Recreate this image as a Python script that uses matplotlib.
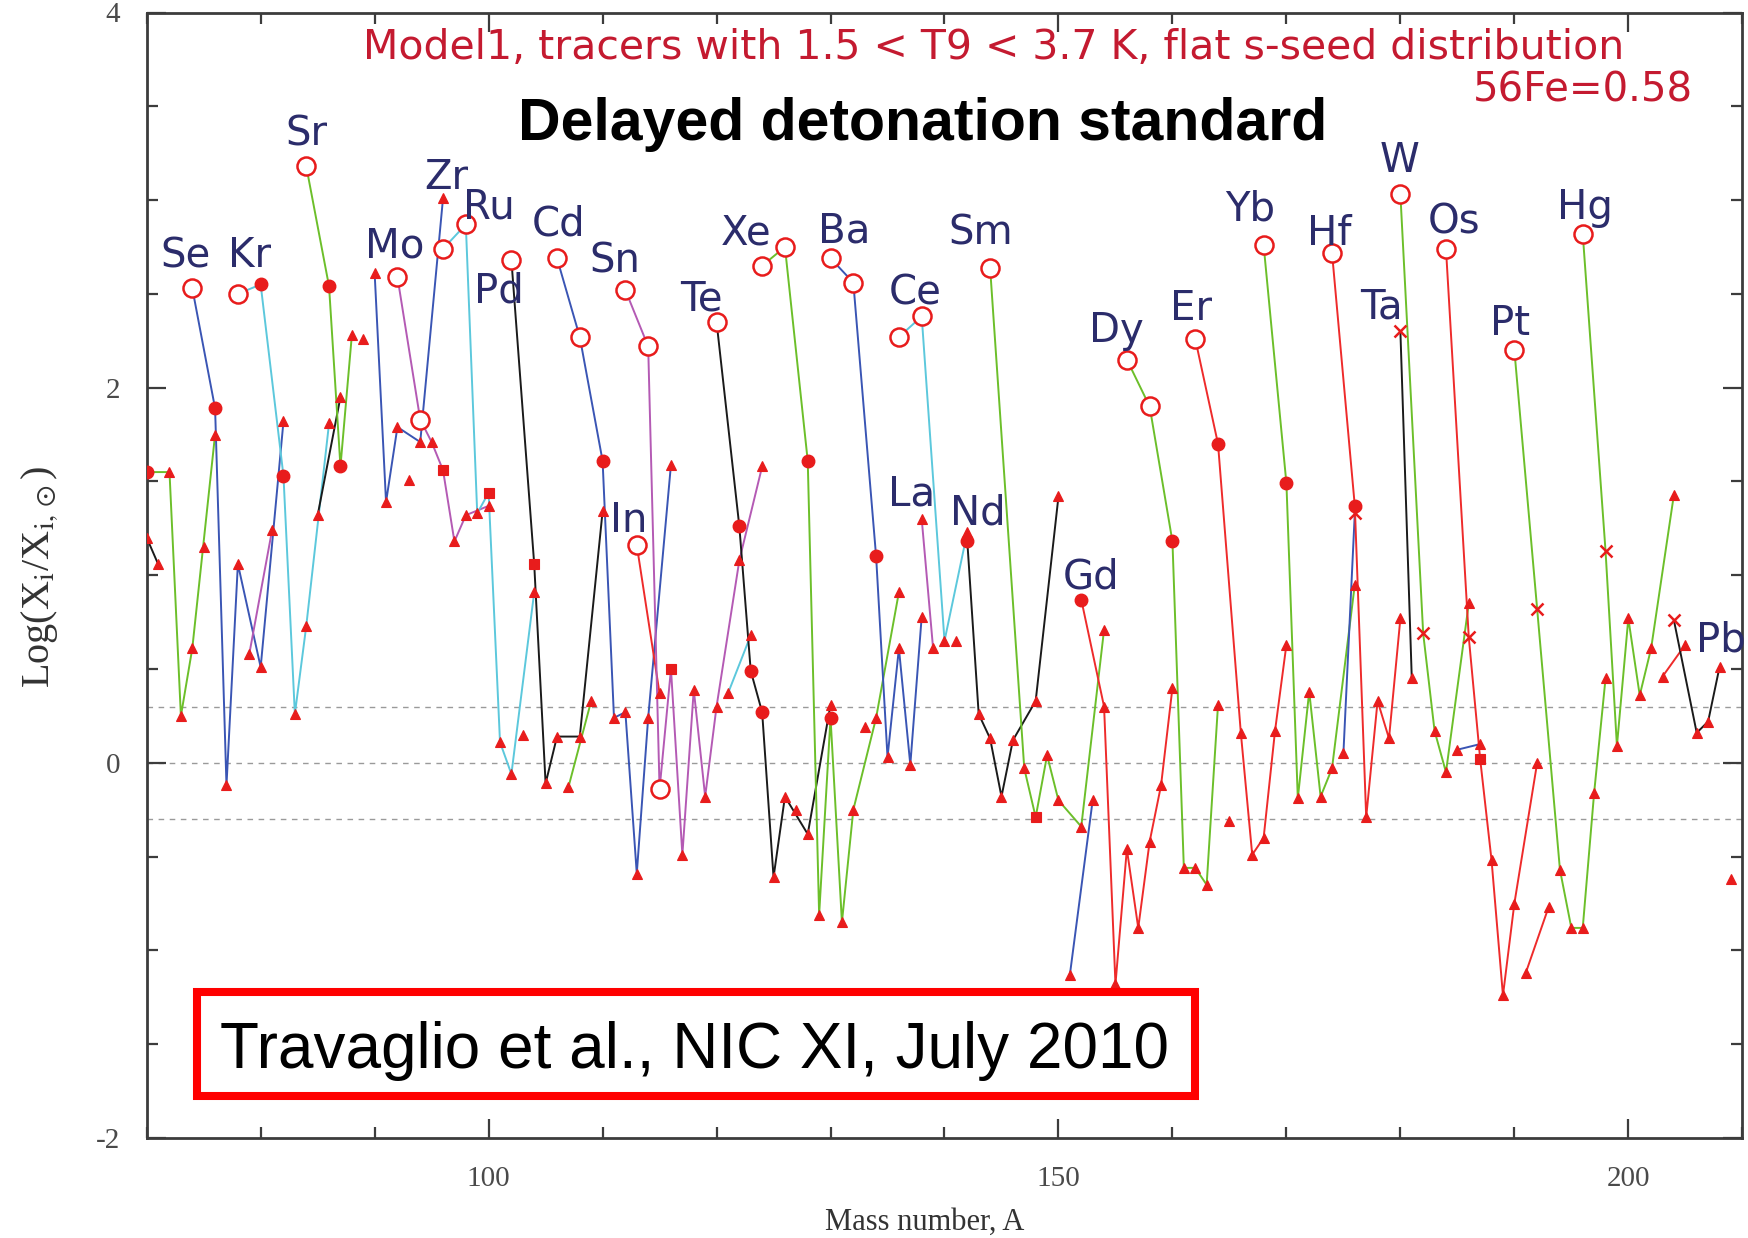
import matplotlib.pyplot as plt
from matplotlib.patches import Rectangle
from matplotlib.ticker import FixedLocator, MultipleLocator

# Each chain: (mass numbers, log(X/X_sun), isotope kind)
# kind: p = p-only, s = s-only, r = other, q = square-flagged, x = cross-flagged
ga = ([70, 71], [1.20, 1.06], "rr")
ge = ([70, 72, 73, 74, 76], [1.55, 1.55, 0.25, 0.61, 1.75], "srrrr")
as_ = ([75], [1.15], "r")
se = ([74, 76, 77, 78, 80, 82], [2.53, 1.89, -0.12, 1.06, 0.51, 1.82], "psrrrr")
br = ([79, 81], [0.58, 1.24], "rr")
kr = ([78, 80, 82, 83, 84, 86], [2.50, 2.55, 1.53, 0.26, 0.73, 1.81], "pssrrr")
rb = ([85, 87], [1.32, 1.95], "rr")
sr = ([84, 86, 87, 88], [3.18, 2.54, 1.58, 2.28], "pssr")
y_ = ([89], [2.26], "r")
zr = ([90, 91, 92, 94, 96], [2.61, 1.39, 1.79, 1.71, 3.01], "rrrrr")
nb = ([93], [1.51], "r")
mo = ([92, 94, 95, 96, 97, 98, 100], [2.59, 1.83, 1.71, 1.56, 1.18, 1.32, 1.37], "pprqrrr")
ru = ([96, 98, 99, 100, 101, 102, 104], [2.74, 2.87, 1.33, 1.44, 0.11, -0.06, 0.91], "pprqrrr")
rh = ([103], [0.15], "r")
pd = ([102, 104, 105, 106, 108, 110], [2.68, 1.06, -0.11, 0.14, 0.14, 1.34], "pqrrrr")
ag = ([107, 109], [-0.13, 0.33], "rr")
cd = ([106, 108, 110, 111, 112, 113, 114, 116],
      [2.69, 2.27, 1.61, 0.24, 0.27, -0.59, 0.24, 1.59], "ppsrrrrr")
in_ = ([113, 115], [1.16, 0.37], "pr")
sn = ([112, 114, 115, 116, 117, 118, 119, 120, 122, 124],
      [2.52, 2.22, -0.14, 0.50, -0.49, 0.39, -0.18, 0.30, 1.08, 1.58], "pppqrrrrrr")
sb = ([121, 123], [0.37, 0.68], "rr")
te = ([120, 122, 123, 124, 125, 126, 128, 130],
      [2.35, 1.26, 0.49, 0.27, -0.61, -0.18, -0.38, 0.31], "psssrrrr")
i_ = ([127], [-0.25], "r")
xe = ([124, 126, 128, 129, 130, 131, 132, 134, 136],
      [2.65, 2.75, 1.61, -0.81, 0.24, -0.85, -0.25, 0.24, 0.91], "ppsrsrrrr")
cs = ([133], [0.19], "r")
ba = ([130, 132, 134, 135, 136, 137, 138], [2.69, 2.56, 1.10, 0.03, 0.61, -0.01, 0.78], "ppsrrrr")
la = ([138, 139], [1.30, 0.61], "rr")
ce = ([136, 138, 140, 142], [2.27, 2.38, 0.65, 1.23], "pprr")
pr = ([141], [0.65], "r")
nd = ([142, 143, 144, 145, 146, 148, 150], [1.18, 0.26, 0.13, -0.18, 0.12, 0.33, 1.42], "srrrrrr")
sm = ([144, 147, 148, 149, 150, 152, 154], [2.64, -0.03, -0.29, 0.04, -0.20, -0.34, 0.71], "prqrrrr")
eu = ([151, 153], [-1.13, -0.20], "rr")
gd = ([152, 154, 155, 156, 157, 158, 159, 160],
      [0.87, 0.30, -1.18, -0.46, -0.88, -0.42, -0.12, 0.40], "srrrrrrr")
dy = ([156, 158, 160, 161, 162, 163, 164], [2.15, 1.90, 1.18, -0.56, -0.56, -0.65, 0.31], "ppsrrrr")
ho = ([165], [-0.31], "r")
er = ([162, 164, 166, 167, 168, 169, 170], [2.26, 1.70, 0.16, -0.49, -0.40, 0.17, 0.63], "psrrrrr")
yb = ([168, 170, 171, 172, 173, 174, 176], [2.76, 1.49, -0.19, 0.38, -0.18, -0.03, 0.95], "psrrrrr")
lu = ([175, 176], [0.05, 1.33], "rx")
hf = ([174, 176, 177, 178, 179, 180], [2.72, 1.37, -0.29, 0.33, 0.13, 0.77], "psrrrr")
ta = ([180, 181], [2.30, 0.45], "xr")
w_ = ([180, 182, 183, 184, 186], [3.03, 0.69, 0.17, -0.05, 0.85], "pxrrr")
re = ([185, 187], [0.07, 0.10], "rr")
os_ = ([184, 186, 187, 188, 189, 190, 192], [2.74, 0.67, 0.02, -0.52, -1.24, -0.75, 0.00], "pxqrrrr")
ir = ([191, 193], [-1.12, -0.77], "rr")
pt = ([190, 192, 194, 195, 196, 197, 198], [2.20, 0.82, -0.57, -0.88, -0.88, -0.16, 0.45], "pxrrrrr")
hg = ([196, 198, 199, 200, 201, 202, 204], [2.82, 1.13, 0.09, 0.77, 0.36, 0.61, 1.43], "pxrrrrr")
tl = ([203, 205], [0.46, 0.63], "rr")
pb = ([204, 206, 207, 208], [0.76, 0.16, 0.22, 0.51], "xrrr")
bi = ([209], [-0.62], "r")

# element names written on the plot and where they sit (A, log ratio)
label_names = ["Se", "Kr", "Sr", "Mo", "Zr", "Ru", "Pd", "Cd", "Sn", "In", "Te", "Xe", "Ba",
               "Ce", "La", "Nd", "Sm", "Gd", "Dy", "Er", "Yb", "Hf", "Ta", "W", "Os", "Pt",
               "Hg", "Pb"]
label_x = [73.4, 79.0, 84.0, 91.8, 96.3, 100.0, 100.9, 106.1, 111.1, 112.3, 118.7, 122.6, 131.2,
           137.4, 137.1, 142.9, 143.2, 152.9, 155.1, 161.6, 166.8, 173.8, 178.3, 179.9, 184.7,
           189.6, 196.2, 208.1]
label_y = [2.70, 2.70, 3.35, 2.75, 3.12, 2.96, 2.51, 2.87, 2.67, 1.29, 2.47, 2.82, 2.83,
           2.50, 1.43, 1.33, 2.82, 0.99, 2.30, 2.42, 2.95, 2.82, 2.43, 3.21, 2.88,
           2.34, 2.96, 0.65]

BLUE = "#3a55b4"
CYAN = "#5cc8dc"
GREEN = "#6cbf2a"
BLACK = "#1a1a1a"
MAGENTA = "#b45ab4"
LRED = "#ee2b2b"
RED = "#e81c1c"
NAVY = "#2b2c6b"

chains = [
    (ga, BLACK), (ge, GREEN), (as_, GREEN), (se, BLUE), (br, MAGENTA), (kr, CYAN),
    (rb, BLACK), (sr, GREEN), (y_, GREEN), (zr, BLUE), (nb, BLUE), (mo, MAGENTA),
    (ru, CYAN), (rh, CYAN), (pd, BLACK), (ag, GREEN), (cd, BLUE), (in_, LRED),
    (sn, MAGENTA), (sb, CYAN), (te, BLACK), (i_, BLACK), (xe, GREEN), (cs, GREEN),
    (ba, BLUE), (la, MAGENTA), (ce, CYAN), (pr, CYAN), (nd, BLACK), (sm, GREEN),
    (eu, BLUE), (gd, LRED), (dy, GREEN), (ho, GREEN), (er, LRED), (yb, GREEN),
    (lu, BLUE), (hf, LRED), (ta, BLACK), (w_, GREEN), (re, BLUE), (os_, LRED),
    (ir, LRED), (pt, GREEN), (hg, GREEN), (tl, LRED), (pb, BLACK), (bi, BLACK),
]

kind_style = {
    "p": dict(marker="o", ms=13, mfc="white", mec=RED, mew=1.8),
    "s": dict(marker="o", ms=9, mfc=RED, mec=RED, mew=1),
    "r": dict(marker="^", ms=7.5, mfc=RED, mec=RED, mew=0.8),
    "q": dict(marker="s", ms=6.5, mfc=RED, mec=RED, mew=0.8),
    "x": dict(marker="x", ms=9, mec=RED, mew=1.8),
}

plt.rcParams["axes.unicode_minus"] = False
plt.rcParams["mathtext.fontset"] = "stix"

W, H = 1749, 1238
fig = plt.figure(figsize=(W / 100, H / 100), dpi=100)
ax = fig.add_axes([146.7 / W, 1 - 1138 / H, (1742.3 - 146.7) / W, (1138 - 12.5) / H])
ax.set_xlim(70, 210)
ax.set_ylim(-2, 4)

for yl in (-0.3, 0.0, 0.3):
    ax.axhline(yl, color="#9a9a9a", lw=1, ls=(0, (4, 4)), zorder=1)

for (a, y, k), col in chains:
    ax.plot(a, y, color=col, lw=1.4, zorder=2)
    for kind in sorted(set(k)):
        xs = [ai for ai, ki in zip(a, k) if ki == kind]
        ys = [yi for yi, ki in zip(y, k) if ki == kind]
        ax.plot(xs, ys, ls="none", zorder=3, **kind_style[kind])

for name, lx, ly in zip(label_names, label_x, label_y):
    ax.text(lx, ly, name, ha="center", va="center", fontsize=29, color=NAVY,
            family="DejaVu Sans", zorder=4)

# axes frame and ticks
for sp in ax.spines.values():
    sp.set_color("#3c3c3c")
    sp.set_linewidth(2)
ax.yaxis.set_major_locator(FixedLocator([-2, 0, 2, 4]))
ax.yaxis.set_minor_locator(MultipleLocator(0.5))
ax.xaxis.set_major_locator(FixedLocator([100, 150, 200]))
ax.xaxis.set_minor_locator(MultipleLocator(10))
ax.tick_params(which="both", direction="in", top=True, right=True, color="#3c3c3c", width=1.6)
ax.tick_params(which="major", length=14)
ax.tick_params(which="minor", length=8)
ax.tick_params(axis="y", which="major", pad=19, labelsize=21, labelcolor="#4a4a4a")
ax.tick_params(axis="x", which="major", pad=20, labelsize=21, labelcolor="#4a4a4a")
for lab in ax.get_xticklabels() + ax.get_yticklabels():
    lab.set_family("Liberation Serif")


def px(x, y):
    return x / W, 1 - y / H


fig.text(*px(925, 1222), "Mass number, A", ha="center", va="center", fontsize=22,
         family="Liberation Serif", color="#333333")
fig.text(*px(40, 577), r"Log(X$_\mathrm{i}$/X$_{\mathrm{i},\odot}$)", ha="center", va="center",
         rotation=90, fontsize=29, family="Liberation Serif", color="#333333")

fig.text(*px(994, 59), "Model1, tracers with 1.5 < T9 < 3.7 K, flat s-seed distribution",
         ha="center", va="baseline", fontsize=29.5, color="#c41a30", family="DejaVu Sans")
fig.text(*px(1693, 102), "56Fe=0.58", ha="right", va="baseline", fontsize=29,
         color="#c41a30", family="DejaVu Sans")
fig.text(*px(923, 140), "Delayed detonation standard", ha="center", va="baseline",
         fontsize=42.5, fontweight="bold", family="Liberation Sans", color="black")

box = Rectangle(px(197, 1096), (1195 - 197) / W, (1096 - 992) / H, transform=fig.transFigure,
                facecolor="white", edgecolor="#ff0000", lw=5.8, zorder=5)
fig.add_artist(box)
fig.text(*px(695, 1068), "Travaglio et al., NIC XI, July 2010", ha="center", va="baseline",
         fontsize=46, family="Liberation Sans", color="black", zorder=6)

fig.savefig("out.png", dpi=100)
